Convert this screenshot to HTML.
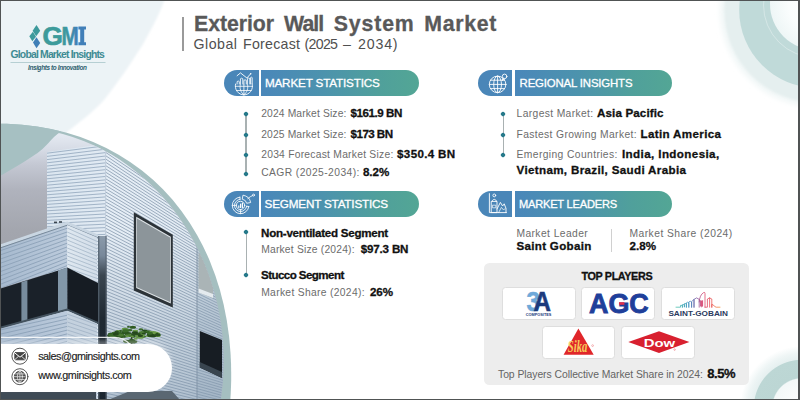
<!DOCTYPE html>
<html>
<head>
<meta charset="utf-8">
<title>Exterior Wall System Market</title>
<style>
html,body{margin:0;padding:0;}
body{width:800px;height:400px;overflow:hidden;background:#fff;position:relative;font-family:"Liberation Sans",sans-serif;}
#stage{position:absolute;left:0;top:0;width:800px;height:400px;overflow:hidden;background:#fff;}
.t{position:absolute;white-space:nowrap;}
.abs{position:absolute;}
.pill{position:absolute;height:26px;}
.pill .ic{position:absolute;left:0;top:0;width:34.6px;height:100%;background:#4a86b8;border-radius:13px 0 0 13px;}
.pill .bar{position:absolute;left:36.8px;top:0;right:0;height:100%;border-radius:0 13px 13px 0;background:linear-gradient(90deg,#4a87ba 0%,#4c93ad 40%,#50a09b 75%,#53a695 100%);}
.dot{position:absolute;width:4px;height:4px;background:#26798a;transform:rotate(45deg);border-radius:1.3px;margin:0.3px;}
.vl{position:absolute;width:1.5px;background:#a9b1b2;margin-left:-0.2px;}
.card{position:absolute;background:#fff;border:1px solid #dedede;border-radius:3.5px;box-sizing:border-box;}
</style>
</head>
<body>
<div id="stage">

<!-- background + photo -->
<svg class="abs" style="left:0;top:0" width="800" height="400" viewBox="0 0 800 400">
  <defs>
    <clipPath id="photoClip"><ellipse cx="11.26" cy="361.2" rx="212.41" ry="234.3"/></clipPath>
    <clipPath id="outerClip"><ellipse cx="-100" cy="480.32" rx="286.99" ry="393.09" transform="rotate(37.99 -100 480.32)"/></clipPath>
    <filter id="soft" x="-10%" y="-10%" width="120%" height="120%"><feGaussianBlur stdDeviation="1.3"/></filter>
    <filter id="soft1" x="-10%" y="-10%" width="120%" height="120%"><feGaussianBlur stdDeviation="0.8"/></filter>
    <filter id="soft2" x="-10%" y="-10%" width="120%" height="120%"><feGaussianBlur stdDeviation="2.5"/></filter>
    <radialGradient id="innerTR" cx="816" cy="4" r="46" gradientUnits="userSpaceOnUse"><stop offset="0" stop-color="#ffffff"/><stop offset="0.6" stop-color="#fafdfd"/><stop offset="1" stop-color="#eef6f6"/></radialGradient>
    
    <linearGradient id="pipe" x1="0" y1="236" x2="0" y2="400" gradientUnits="userSpaceOnUse"><stop offset="0" stop-color="#8b9bab"/><stop offset="0.12" stop-color="#78889a"/><stop offset="0.24" stop-color="#3a454f"/><stop offset="0.5" stop-color="#1f2932"/><stop offset="1" stop-color="#1c2630"/></linearGradient>
    <linearGradient id="shade" x1="0" y1="230" x2="0" y2="400" gradientUnits="userSpaceOnUse"><stop offset="0" stop-color="#7f95ab" stop-opacity="0"/><stop offset="1" stop-color="#7f95ab" stop-opacity="0.5"/></linearGradient>
    <linearGradient id="sky" x1="0" y1="135" x2="0" y2="300" gradientUnits="userSpaceOnUse">
      <stop offset="0" stop-color="#e4e9f1"/><stop offset="0.09" stop-color="#d6dbe5"/><stop offset="0.18" stop-color="#c4c8d3"/><stop offset="0.33" stop-color="#b0b3bd"/><stop offset="0.58" stop-color="#a3a6ae"/><stop offset="1" stop-color="#9a9da6"/>
    </linearGradient>
    <linearGradient id="gA" x1="47" y1="0" x2="105" y2="0" gradientUnits="userSpaceOnUse">
      <stop offset="0" stop-color="#dbe6f0"/><stop offset="1" stop-color="#e1eaf3"/>
    </linearGradient>
    <linearGradient id="gB" x1="105" y1="0" x2="240" y2="0" gradientUnits="userSpaceOnUse">
      <stop offset="0" stop-color="#e6eef6"/><stop offset="0.6" stop-color="#e2ebf3"/><stop offset="1" stop-color="#d3dee9"/>
    </linearGradient>
    <linearGradient id="gC" x1="0" y1="0" x2="67" y2="0" gradientUnits="userSpaceOnUse">
      <stop offset="0" stop-color="#a6b9ce"/><stop offset="1" stop-color="#bccbdc"/>
    </linearGradient>
    <linearGradient id="gD" x1="67" y1="0" x2="97" y2="0" gradientUnits="userSpaceOnUse">
      <stop offset="0" stop-color="#dfe8f0"/><stop offset="1" stop-color="#d3dee9"/>
    </linearGradient>

    <radialGradient id="ringBR" cx="802" cy="408" r="62" gradientUnits="userSpaceOnUse">
      <stop offset="0" stop-color="#ffffff"/>
      <stop offset="0.47" stop-color="#f3f8f8"/>
      <stop offset="0.49" stop-color="#bcd6d4"/>
      <stop offset="0.77" stop-color="#bdd7d5"/>
      <stop offset="0.785" stop-color="#e6f0f0"/>
      <stop offset="0.88" stop-color="#eef5f5"/>
      <stop offset="1" stop-color="#ffffff"/>
    </radialGradient>
  </defs>

  <!-- pale blue top-left wash -->
  <path d="M-5 -5 H166 C161 12 153 26 142.5 45 C133 60 120 80 104 100 C93 112 80 122 58 139 L-5 140 Z" fill="#ecf3f6" filter="url(#soft)"/>

  <!-- decorative rings -->
  <circle cx="817" cy="10" r="97" fill="#f1f7f7" filter="url(#soft2)"/>
  <circle cx="817" cy="10" r="92.6" fill="#e5efef" filter="url(#soft1)"/>
  <circle cx="817" cy="10" r="77.8" fill="#c0dad9"/>
  <circle cx="816" cy="5" r="52.5" fill="none" stroke="#e3efee" stroke-width="0.6"/>
  <circle cx="816" cy="4" r="46" fill="url(#innerTR)"/>
  <circle cx="802" cy="408" r="62" fill="url(#ringBR)"/>

  <!-- outer teal ellipse (ring + crescent) -->
  <ellipse cx="-100" cy="480.32" rx="286.99" ry="393.09" transform="rotate(37.99 -100 480.32)" fill="#a5bfc0"/>

  <!-- photo -->
  <g clip-path="url(#photoClip)">
    <g id="photo">
<rect x="0" y="100" width="240" height="300" fill="url(#sky)"/>
<clipPath id="fA"><polygon points="47,152 105.4,143.8 105.4,400 47,400"/></clipPath><polygon points="47,152 105.4,143.8 105.4,400 47,400" fill="url(#gA)"/><g clip-path="url(#fA)"><path d="M47.0 150.00L106.0 142.33M47.0 153.20L106.0 145.74M47.0 156.40L106.0 149.15M47.0 159.60L106.0 152.56M47.0 162.80L106.0 155.97M47.0 166.00L106.0 159.38M47.0 169.20L106.0 162.79M47.0 172.40L106.0 166.20M47.0 175.60L106.0 169.61M47.0 178.80L106.0 173.02M47.0 182.00L106.0 176.43M47.0 185.20L106.0 179.84M47.0 188.40L106.0 183.25M47.0 191.60L106.0 186.66M47.0 194.80L106.0 190.07M47.0 198.00L106.0 193.48M47.0 201.20L106.0 196.89M47.0 204.40L106.0 200.30M47.0 207.60L106.0 203.71M47.0 210.80L106.0 207.12M47.0 214.00L106.0 210.53M47.0 217.20L106.0 213.94M47.0 220.40L106.0 217.35M47.0 223.60L106.0 220.75M47.0 226.80L106.0 224.16M47.0 230.00L106.0 227.57M47.0 233.20L106.0 230.98M47.0 236.40L106.0 234.39M47.0 239.60L106.0 237.80M47.0 242.80L106.0 241.21M47.0 246.00L106.0 244.62M47.0 249.20L106.0 248.03M47.0 252.40L106.0 251.44M47.0 255.60L106.0 254.85M47.0 258.80L106.0 258.26M47.0 262.00L106.0 261.67M47.0 265.20L106.0 265.08M47.0 268.40L106.0 268.49M47.0 271.60L106.0 271.90M47.0 274.80L106.0 275.31M47.0 278.00L106.0 278.72M47.0 281.20L106.0 282.13M47.0 284.40L106.0 285.54M47.0 287.60L106.0 288.95M47.0 290.80L106.0 292.36M47.0 294.00L106.0 295.77M47.0 297.20L106.0 299.18M47.0 300.40L106.0 302.59M47.0 303.60L106.0 306.00M47.0 306.80L106.0 309.41M47.0 310.00L106.0 312.82M47.0 313.20L106.0 316.23M47.0 316.40L106.0 319.64M47.0 319.60L106.0 323.05M47.0 322.80L106.0 326.46M47.0 326.00L106.0 329.87M47.0 329.20L106.0 333.28M47.0 332.40L106.0 336.69M47.0 335.60L106.0 340.10M47.0 338.80L106.0 343.51M47.0 342.00L106.0 346.92M47.0 345.20L106.0 350.33M47.0 348.40L106.0 353.74M47.0 351.60L106.0 357.15M47.0 354.80L106.0 360.56M47.0 358.00L106.0 363.97M47.0 361.20L106.0 367.38M47.0 364.40L106.0 370.79M47.0 367.60L106.0 374.19M47.0 370.80L106.0 377.60M47.0 374.00L106.0 381.01M47.0 377.20L106.0 384.42M47.0 380.40L106.0 387.83M47.0 383.60L106.0 391.24M47.0 386.80L106.0 394.65M47.0 390.00L106.0 398.06M47.0 393.20L106.0 401.47M47.0 396.40L106.0 404.88M47.0 399.60L106.0 408.29M47.0 402.80L106.0 411.70M47.0 406.00L106.0 415.11M47.0 409.20L106.0 418.52M47.0 412.40L106.0 421.93M47.0 415.60L106.0 425.34M47.0 418.80L106.0 428.75" stroke="#9db0c4" stroke-width="0.95" fill="none" opacity="1"/></g>
<clipPath id="fB"><polygon points="105.4,100 240,100 240,400 105.4,400"/></clipPath><polygon points="105.4,100 240,100 240,400 105.4,400" fill="url(#gB)"/><g clip-path="url(#fB)"><path d="M105.4 40.00L240.0 159.20M105.4 43.30L240.0 161.66M105.4 46.60L240.0 164.12M105.4 49.90L240.0 166.58M105.4 53.20L240.0 169.04M105.4 56.50L240.0 171.50M105.4 59.80L240.0 173.97M105.4 63.10L240.0 176.43M105.4 66.40L240.0 178.89M105.4 69.70L240.0 181.35M105.4 73.00L240.0 183.81M105.4 76.30L240.0 186.27M105.4 79.60L240.0 188.73M105.4 82.90L240.0 191.20M105.4 86.20L240.0 193.66M105.4 89.50L240.0 196.12M105.4 92.80L240.0 198.58M105.4 96.10L240.0 201.04M105.4 99.40L240.0 203.50M105.4 102.70L240.0 205.96M105.4 106.00L240.0 208.42M105.4 109.30L240.0 210.89M105.4 112.60L240.0 213.35M105.4 115.90L240.0 215.81M105.4 119.20L240.0 218.27M105.4 122.50L240.0 220.73M105.4 125.80L240.0 223.19M105.4 129.10L240.0 225.65M105.4 132.40L240.0 228.11M105.4 135.70L240.0 230.58M105.4 139.00L240.0 233.04M105.4 142.30L240.0 235.50M105.4 145.60L240.0 237.96M105.4 148.90L240.0 240.42M105.4 152.20L240.0 242.88M105.4 155.50L240.0 245.34M105.4 158.80L240.0 247.80M105.4 162.10L240.0 250.27M105.4 165.40L240.0 252.73M105.4 168.70L240.0 255.19M105.4 172.00L240.0 257.65M105.4 175.30L240.0 260.11M105.4 178.60L240.0 262.57M105.4 181.90L240.0 265.03M105.4 185.20L240.0 267.50M105.4 188.50L240.0 269.96M105.4 191.80L240.0 272.42M105.4 195.10L240.0 274.88M105.4 198.40L240.0 277.34M105.4 201.70L240.0 279.80M105.4 205.00L240.0 282.26M105.4 208.30L240.0 284.72M105.4 211.60L240.0 287.19M105.4 214.90L240.0 289.65M105.4 218.20L240.0 292.11M105.4 221.50L240.0 294.57M105.4 224.80L240.0 297.03M105.4 228.10L240.0 299.49M105.4 231.40L240.0 301.95M105.4 234.70L240.0 304.41M105.4 238.00L240.0 306.88M105.4 241.30L240.0 309.34M105.4 244.60L240.0 311.80M105.4 247.90L240.0 314.26M105.4 251.20L240.0 316.72M105.4 254.50L240.0 319.18M105.4 257.80L240.0 321.64M105.4 261.10L240.0 324.10M105.4 264.40L240.0 326.57M105.4 267.70L240.0 329.03M105.4 271.00L240.0 331.49M105.4 274.30L240.0 333.95M105.4 277.60L240.0 336.41M105.4 280.90L240.0 338.87M105.4 284.20L240.0 341.33M105.4 287.50L240.0 343.80M105.4 290.80L240.0 346.26M105.4 294.10L240.0 348.72M105.4 297.40L240.0 351.18M105.4 300.70L240.0 353.64M105.4 304.00L240.0 356.10M105.4 307.30L240.0 358.56M105.4 310.60L240.0 361.02M105.4 313.90L240.0 363.49M105.4 317.20L240.0 365.95M105.4 320.50L240.0 368.41M105.4 323.80L240.0 370.87M105.4 327.10L240.0 373.33M105.4 330.40L240.0 375.79M105.4 333.70L240.0 378.25M105.4 337.00L240.0 380.71M105.4 340.30L240.0 383.18M105.4 343.60L240.0 385.64M105.4 346.90L240.0 388.10M105.4 350.20L240.0 390.56M105.4 353.50L240.0 393.02M105.4 356.80L240.0 395.48M105.4 360.10L240.0 397.94M105.4 363.40L240.0 400.40M105.4 366.70L240.0 402.87M105.4 370.00L240.0 405.33M105.4 373.30L240.0 407.79M105.4 376.60L240.0 410.25M105.4 379.90L240.0 412.71M105.4 383.20L240.0 415.17M105.4 386.50L240.0 417.63M105.4 389.80L240.0 420.10M105.4 393.10L240.0 422.56M105.4 396.40L240.0 425.02M105.4 399.70L240.0 427.48" stroke="#9aabbd" stroke-width="1.0" fill="none" opacity="1"/></g>
<polygon points="197,245 240,266 240,400 197,400" fill="#8fa2b5" opacity="0.22"/>
<path d="M197 235 V400" stroke="#7f90a2" stroke-width="0.9"/>
<rect x="105" y="230" width="140" height="170" fill="url(#shade)"/>
<polygon points="133.8,212.2 172.8,234.8 172.8,307.4 133.8,290.4" fill="#2c3338"/>
<polygon points="136.2,216.8 170.8,236.8 170.8,303.4 136.2,288" fill="#dfe5e8"/>
<polygon points="137,218.4 170,237.6 170,302 137,287.2" fill="#8c959a"/>
<polygon points="198.6,253 213,259 213,298 198.6,292.5" fill="#aab4b6"/>
<polygon points="198.6,288.5 213,294 213,298 198.6,292.5" fill="#e4eaee"/>
<polygon points="199.8,331 222,340 222,378 199.8,367.5" fill="#171d23"/>
<polygon points="199.8,362 222,372 222,378 199.8,367.5" fill="#39454f"/>
<clipPath id="fC"><polygon points="0,247.78 67.2,225 67.2,267.5 0,288.332"/></clipPath><polygon points="0,247.78 67.2,225 67.2,267.5 0,288.332" fill="url(#gC)"/><g clip-path="url(#fC)"><path d="M0.0 250.78L67.2 228.27M0.0 254.98L67.2 232.00M0.0 259.18L67.2 235.73M0.0 263.38L67.2 239.46M0.0 267.58L67.2 243.19M0.0 271.78L67.2 246.92M0.0 275.98L67.2 250.65M0.0 280.18L67.2 254.38M0.0 284.38L67.2 258.10M0.0 288.58L67.2 261.83M0.0 292.78L67.2 265.56M0.0 296.98L67.2 269.29" stroke="#8ca1b8" stroke-width="0.9" fill="none" opacity="1"/></g>
<polygon points="0,244.4 67.3,221.6 98,234.4 98,237.4 67.3,225 0,247.8" fill="#c9d6e2"/>
<path d="M0 248.0 L67.3 225.2 L98 237.8" stroke="#6f8294" stroke-width="0.9" fill="none"/>
<rect x="54" y="221.6" width="3" height="1.6" fill="#39444e"/><rect x="59" y="221.2" width="3" height="1.6" fill="#39444e"/>
<clipPath id="fD"><polygon points="67.2,225 97,237.6 97,282.6 67.2,267.5"/></clipPath><polygon points="67.2,225 97,237.6 97,282.6 67.2,267.5" fill="url(#gD)"/><g clip-path="url(#fD)"><path d="M67.2 228.00L97.0 241.41M67.2 232.00L97.0 245.11M67.2 236.00L97.0 248.81M67.2 240.00L97.0 252.52M67.2 244.00L97.0 256.22M67.2 248.00L97.0 259.92M67.2 252.00L97.0 263.62M67.2 256.00L97.0 267.32M67.2 260.00L97.0 271.03M67.2 264.00L97.0 274.73M67.2 268.00L97.0 278.43M67.2 272.00L97.0 282.13" stroke="#a5b6c8" stroke-width="0.8" fill="none" opacity="1"/></g>
<polygon points="0,288.8 67.2,267.8 67.2,309.3 0,327.8" fill="#1a2129"/>
<polygon points="67.2,267.5 106,287 106,326.5 67.2,309.7" fill="#161c23"/>
<polygon points="21.4,282.2 27.4,280.3 27.4,320.2 21.4,321.9" fill="#788c9d"/>
<polygon points="58,270.4 67.2,267.5 67.2,309.7 58,311.9" fill="#8297a8"/>
<path d="M0 328 L67.2 309.6 L99 323.4" stroke="#44535f" stroke-width="2.2" fill="none"/>
<clipPath id="fE"><polygon points="0,328.8 67.2,310.7 67.2,400 0,400"/></clipPath><polygon points="0,328.8 67.2,310.7 67.2,400 0,400" fill="url(#gC)"/><g clip-path="url(#fE)"><path d="M0.0 330.00L67.2 315.22M0.0 334.20L67.2 318.95M0.0 338.40L67.2 322.68M0.0 342.60L67.2 326.40M0.0 346.80L67.2 330.13M0.0 351.00L67.2 333.86M0.0 355.20L67.2 337.59M0.0 359.40L67.2 341.32M0.0 363.60L67.2 345.05M0.0 367.80L67.2 348.78M0.0 372.00L67.2 352.51M0.0 376.20L67.2 356.24M0.0 380.40L67.2 359.97M0.0 384.60L67.2 363.70M0.0 388.80L67.2 367.43M0.0 393.00L67.2 371.16M0.0 397.20L67.2 374.89M0.0 401.40L67.2 378.62M0.0 405.60L67.2 382.35M0.0 409.80L67.2 386.08M0.0 414.00L67.2 389.81M0.0 418.20L67.2 393.54" stroke="#8ca1b8" stroke-width="0.9" fill="none" opacity="1"/></g>
<clipPath id="fF"><polygon points="67.2,310.7 97,323.5 97,400 67.2,400"/></clipPath><polygon points="67.2,310.7 97,323.5 97,400 67.2,400" fill="#c4d1de"/><g clip-path="url(#fF)"><path d="M67.2 314.00L97.0 324.73M67.2 318.00L97.0 328.43M67.2 322.00L97.0 332.13M67.2 326.00L97.0 335.83M67.2 330.00L97.0 339.54M67.2 334.00L97.0 343.24M67.2 338.00L97.0 346.94M67.2 342.00L97.0 350.64M67.2 346.00L97.0 354.34M67.2 350.00L97.0 358.05M67.2 354.00L97.0 361.75M67.2 358.00L97.0 365.45M67.2 362.00L97.0 369.15M67.2 366.00L97.0 372.85M67.2 370.00L97.0 376.56M67.2 374.00L97.0 380.26M67.2 378.00L97.0 383.96M67.2 382.00L97.0 387.66M67.2 386.00L97.0 391.36M67.2 390.00L97.0 395.07M67.2 394.00L97.0 398.77M67.2 398.00L97.0 402.47" stroke="#9fb1c4" stroke-width="0.8" fill="none" opacity="1"/></g>
<rect x="98" y="236" width="8.6" height="164" fill="url(#pipe)"/>
<rect x="98" y="236" width="1.4" height="164" fill="#55636f" opacity="0.8"/>
<rect x="105.4" y="236" width="1.2" height="164" fill="#55636f" opacity="0.7"/>
<path d="M105.6 143 V236" stroke="#c0cddb" stroke-width="1"/>
<path d="M131.5 336 L131.8 346" stroke="#2a3324" stroke-width="1.3"/><ellipse cx="131.9" cy="334.8" rx="3.3" ry="1.5" fill="#2a5020"/><ellipse cx="131.8" cy="339.6" rx="1.9" ry="0.9" fill="#25481c"/><ellipse cx="133.0" cy="335.8" rx="1.9" ry="0.9" fill="#2a5020"/><ellipse cx="124.8" cy="329.1" rx="3.1" ry="1.4" fill="#6a9a48"/><ellipse cx="140.4" cy="333.7" rx="2.3" ry="1.1" fill="#2a5020"/><ellipse cx="141.4" cy="333.9" rx="1.8" ry="0.8" fill="#2f5a22"/><ellipse cx="149.8" cy="331.4" rx="1.6" ry="0.7" fill="#3a6a2a"/><ellipse cx="138.8" cy="335.4" rx="2.1" ry="1.0" fill="#25481c"/><ellipse cx="150.3" cy="333.8" rx="2.7" ry="1.3" fill="#2a5020"/><ellipse cx="110.7" cy="334.1" rx="2.8" ry="1.3" fill="#2a5020"/><ellipse cx="157.6" cy="335.4" rx="3.1" ry="1.5" fill="#6a9a48"/><ellipse cx="122.5" cy="335.4" rx="2.5" ry="1.2" fill="#2f5a22"/><ellipse cx="113.8" cy="335.5" rx="2.3" ry="1.1" fill="#4a7a34"/><ellipse cx="128.7" cy="341.4" rx="3.2" ry="1.5" fill="#2f5a22"/><ellipse cx="120.6" cy="336.7" rx="1.6" ry="0.7" fill="#2a5020"/><ellipse cx="156.8" cy="334.1" rx="1.6" ry="0.8" fill="#6a9a48"/><ellipse cx="119.9" cy="334.9" rx="2.2" ry="1.0" fill="#4a7a34"/><ellipse cx="126.2" cy="341.5" rx="3.0" ry="1.4" fill="#2f5a22"/><ellipse cx="116.9" cy="335.2" rx="1.5" ry="0.7" fill="#2a5020"/><ellipse cx="148.1" cy="331.6" rx="2.6" ry="1.2" fill="#2a5020"/><ellipse cx="134.5" cy="341.8" rx="3.0" ry="1.4" fill="#2a5020"/><ellipse cx="140.9" cy="329.4" rx="2.3" ry="1.1" fill="#3a6a2a"/><ellipse cx="110.5" cy="335.7" rx="3.4" ry="1.6" fill="#25481c"/><ellipse cx="124.9" cy="336.6" rx="1.9" ry="0.9" fill="#2a5020"/><ellipse cx="157.5" cy="334.6" rx="2.6" ry="1.2" fill="#2f5a22"/><ellipse cx="157.2" cy="333.8" rx="2.0" ry="0.9" fill="#25481c"/><ellipse cx="126.0" cy="331.9" rx="1.6" ry="0.8" fill="#2f5a22"/><ellipse cx="120.4" cy="334.6" rx="1.5" ry="0.7" fill="#4a7a34"/><ellipse cx="128.0" cy="333.7" rx="3.4" ry="1.6" fill="#2a5020"/><ellipse cx="149.8" cy="331.8" rx="2.3" ry="1.1" fill="#6a9a48"/><ellipse cx="117.8" cy="336.3" rx="3.1" ry="1.4" fill="#3a6a2a"/><ellipse cx="144.7" cy="330.7" rx="2.7" ry="1.3" fill="#25481c"/><ellipse cx="119.8" cy="336.8" rx="3.2" ry="1.5" fill="#25481c"/><ellipse cx="114.2" cy="332.7" rx="1.7" ry="0.8" fill="#25481c"/><ellipse cx="155.9" cy="333.6" rx="2.9" ry="1.3" fill="#4a7a34"/><ellipse cx="130.4" cy="340.5" rx="2.5" ry="1.1" fill="#25481c"/><ellipse cx="118.8" cy="335.2" rx="1.6" ry="0.8" fill="#3a6a2a"/><ellipse cx="133.1" cy="336.5" rx="2.7" ry="1.3" fill="#2f5a22"/><ellipse cx="123.7" cy="336.8" rx="1.9" ry="0.9" fill="#2f5a22"/><ellipse cx="113.8" cy="334.2" rx="2.0" ry="0.9" fill="#2f5a22"/><ellipse cx="118.8" cy="333.0" rx="2.6" ry="1.2" fill="#3a6a2a"/><ellipse cx="114.9" cy="332.8" rx="2.4" ry="1.1" fill="#4a7a34"/><ellipse cx="141.5" cy="334.6" rx="2.6" ry="1.2" fill="#3a6a2a"/><ellipse cx="138.3" cy="336.9" rx="2.4" ry="1.1" fill="#4a7a34"/><ellipse cx="143.6" cy="336.8" rx="1.5" ry="0.7" fill="#6a9a48"/><ellipse cx="114.0" cy="332.8" rx="2.1" ry="1.0" fill="#3a6a2a"/><ellipse cx="157.7" cy="333.6" rx="2.6" ry="1.2" fill="#6a9a48"/><ellipse cx="112.6" cy="336.0" rx="2.9" ry="1.4" fill="#3a6a2a"/><ellipse cx="147.9" cy="336.0" rx="2.2" ry="1.0" fill="#6a9a48"/><ellipse cx="132.8" cy="327.2" rx="3.2" ry="1.5" fill="#2f5a22"/><ellipse cx="151.3" cy="334.2" rx="2.7" ry="1.3" fill="#2a5020"/><ellipse cx="128.4" cy="326.9" rx="1.6" ry="0.8" fill="#2f5a22"/><ellipse cx="140.7" cy="337.3" rx="3.2" ry="1.5" fill="#6a9a48"/><ellipse cx="126.1" cy="341.1" rx="2.9" ry="1.3" fill="#2a5020"/><ellipse cx="131.3" cy="339.3" rx="1.7" ry="0.8" fill="#25481c"/><ellipse cx="111.9" cy="335.1" rx="2.4" ry="1.1" fill="#3a6a2a"/><ellipse cx="155.7" cy="333.2" rx="3.0" ry="1.4" fill="#6a9a48"/><ellipse cx="153.9" cy="333.2" rx="1.5" ry="0.7" fill="#4a7a34"/><ellipse cx="117.3" cy="334.6" rx="2.5" ry="1.2" fill="#4a7a34"/><ellipse cx="141.7" cy="332.4" rx="3.2" ry="1.5" fill="#4a7a34"/><ellipse cx="129.6" cy="330.2" rx="2.7" ry="1.3" fill="#3a6a2a"/><ellipse cx="152.0" cy="333.4" rx="2.6" ry="1.2" fill="#4a7a34"/><ellipse cx="120.4" cy="331.0" rx="2.2" ry="1.0" fill="#2f5a22"/><ellipse cx="144.1" cy="336.6" rx="2.0" ry="1.0" fill="#3a6a2a"/><ellipse cx="115.8" cy="334.1" rx="3.3" ry="1.5" fill="#2a5020"/><ellipse cx="128.6" cy="334.7" rx="2.8" ry="1.3" fill="#6a9a48"/><ellipse cx="150.1" cy="336.2" rx="2.4" ry="1.1" fill="#2f5a22"/><ellipse cx="149.6" cy="332.5" rx="2.7" ry="1.3" fill="#6a9a48"/><ellipse cx="143.9" cy="333.7" rx="2.1" ry="1.0" fill="#25481c"/><ellipse cx="111.4" cy="334.0" rx="2.4" ry="1.1" fill="#2f5a22"/><ellipse cx="146.8" cy="331.9" rx="3.0" ry="1.4" fill="#2f5a22"/><ellipse cx="156.9" cy="333.5" rx="1.7" ry="0.8" fill="#25481c"/><ellipse cx="141.4" cy="335.6" rx="3.4" ry="1.6" fill="#6a9a48"/><ellipse cx="119.8" cy="335.9" rx="2.0" ry="0.9" fill="#6a9a48"/><ellipse cx="111.0" cy="334.9" rx="2.9" ry="1.3" fill="#3a6a2a"/><ellipse cx="121.2" cy="335.6" rx="2.6" ry="1.2" fill="#25481c"/><ellipse cx="134.1" cy="341.9" rx="1.8" ry="0.8" fill="#6a9a48"/><ellipse cx="153.3" cy="332.5" rx="3.3" ry="1.5" fill="#6a9a48"/><ellipse cx="128.8" cy="333.5" rx="1.9" ry="0.9" fill="#2f5a22"/><ellipse cx="128.3" cy="335.4" rx="3.2" ry="1.5" fill="#4a7a34"/><ellipse cx="132.4" cy="336.3" rx="1.9" ry="0.9" fill="#6a9a48"/><ellipse cx="151.4" cy="335.2" rx="3.3" ry="1.5" fill="#2f5a22"/><ellipse cx="120.6" cy="336.5" rx="3.4" ry="1.6" fill="#4a7a34"/><ellipse cx="135.8" cy="338.8" rx="2.1" ry="1.0" fill="#6a9a48"/><ellipse cx="150.9" cy="333.1" rx="1.7" ry="0.8" fill="#2a5020"/><ellipse cx="126.6" cy="333.6" rx="2.0" ry="1.0" fill="#2f5a22"/><ellipse cx="120.8" cy="336.2" rx="2.3" ry="1.1" fill="#2f5a22"/><ellipse cx="118.7" cy="332.8" rx="3.0" ry="1.4" fill="#3a6a2a"/><ellipse cx="132.7" cy="342.0" rx="3.3" ry="1.5" fill="#25481c"/><ellipse cx="150.1" cy="334.7" rx="3.3" ry="1.6" fill="#2a5020"/><ellipse cx="137.8" cy="334.5" rx="3.0" ry="1.4" fill="#2a5020"/><ellipse cx="135.4" cy="331.1" rx="2.9" ry="1.4" fill="#6a9a48"/><ellipse cx="118.3" cy="334.0" rx="3.3" ry="1.5" fill="#4a7a34"/><ellipse cx="125.2" cy="331.7" rx="3.1" ry="1.5" fill="#25481c"/><ellipse cx="120.3" cy="336.1" rx="3.4" ry="1.6" fill="#25481c"/><ellipse cx="123.4" cy="333.1" rx="2.3" ry="1.1" fill="#2f5a22"/><ellipse cx="134.2" cy="335.8" rx="1.6" ry="0.7" fill="#2f5a22"/><ellipse cx="134.9" cy="332.7" rx="3.1" ry="1.4" fill="#25481c"/><ellipse cx="116.3" cy="332.1" rx="1.8" ry="0.9" fill="#25481c"/><ellipse cx="132.2" cy="340.7" rx="3.1" ry="1.4" fill="#2a5020"/><ellipse cx="123.2" cy="332.9" rx="1.7" ry="0.8" fill="#2a5020"/><ellipse cx="153.0" cy="335.7" rx="3.3" ry="1.5" fill="#25481c"/><ellipse cx="125.5" cy="329.8" rx="2.7" ry="1.3" fill="#4a7a34"/><ellipse cx="116.6" cy="335.6" rx="1.5" ry="0.7" fill="#3a6a2a"/><ellipse cx="117.8" cy="331.1" rx="2.1" ry="1.0" fill="#6a9a48"/><ellipse cx="127.3" cy="336.4" rx="1.7" ry="0.8" fill="#6a9a48"/><ellipse cx="138.0" cy="336.2" rx="2.7" ry="1.3" fill="#6a9a48"/><ellipse cx="119.8" cy="333.9" rx="2.4" ry="1.1" fill="#2a5020"/><ellipse cx="140.4" cy="335.8" rx="2.7" ry="1.3" fill="#25481c"/><ellipse cx="120.1" cy="334.5" rx="2.7" ry="1.3" fill="#25481c"/><ellipse cx="120.7" cy="333.9" rx="2.6" ry="1.2" fill="#3a6a2a"/><ellipse cx="121.5" cy="335.3" rx="3.1" ry="1.4" fill="#3a6a2a"/><ellipse cx="125.4" cy="331.1" rx="3.3" ry="1.5" fill="#3a6a2a"/><ellipse cx="147.2" cy="331.5" rx="1.7" ry="0.8" fill="#3a6a2a"/><ellipse cx="116.8" cy="331.9" rx="2.3" ry="1.1" fill="#2a5020"/><ellipse cx="149.8" cy="333.3" rx="3.0" ry="1.4" fill="#3a6a2a"/><ellipse cx="120.0" cy="334.5" rx="3.1" ry="1.4" fill="#2f5a22"/><ellipse cx="120.0" cy="334.9" rx="3.3" ry="1.5" fill="#4a7a34"/><ellipse cx="115.9" cy="334.2" rx="3.0" ry="1.4" fill="#25481c"/><ellipse cx="157.6" cy="335.0" rx="3.1" ry="1.4" fill="#2a5020"/>
<polygon points="0,392 96,392 96,400 0,400" fill="#3f4b56"/>
<polygon points="108,400 130,391 172,391 180,400" fill="#5a6772"/>
    </g>
  </g>

  <!-- teal crescent over photo (upper-left) -->
  <g clip-path="url(#outerClip)">
    <path d="M-5 100 L-5 179 L1.9 175 Q7 172 12.5 168.75 Q19 165 25 161.25 Q31 157.5 37.5 153.1 Q43 149 48 143.5 Q51 140 54 137 Q57 134.2 60 132.3 L66 128 L120 100 Z" fill="#a6c0c2"/>
  </g>
</svg>

<!-- logo -->
<svg class="abs" style="left:0;top:0" width="200" height="80" viewBox="0 0 200 80">
  <defs>
    <linearGradient id="gmiG" x1="62" y1="0" x2="78" y2="0" gradientUnits="userSpaceOnUse">
      <stop offset="0" stop-color="#3d9b9b"/><stop offset="0.35" stop-color="#3d96a2"/><stop offset="1" stop-color="#417fb8"/>
    </linearGradient>
  </defs>
  <polygon points="36.5,25 40.2,30.8 36.2,36.2 32.6,30.8" fill="#3d9a9c"/>
  <polygon points="29.3,36.3 32.9,31.8 36,36.8 32.3,41.3" fill="#3d9a9c"/>
  <polygon points="36.5,37.3 40.2,43 36.5,48.2 33,42.6" fill="#3f7fb7"/>
  <text x="42.4" y="45.1" font-family="Liberation Sans, sans-serif" font-weight="bold" font-size="26" textLength="20.4" lengthAdjust="spacingAndGlyphs" fill="#3d9b9b" stroke="#3d9b9b" stroke-width="0.7">G</text>
  <text x="61.6" y="45.1" font-family="Liberation Sans, sans-serif" font-weight="bold" font-size="26" textLength="17.2" lengthAdjust="spacingAndGlyphs" fill="url(#gmiG)" stroke="url(#gmiG)" stroke-width="0.6">M</text>
  <path d="M78.4 26.6 H86 V29.6 H84.2 V42.2 H86 V45.2 H78.4 V42.2 H80.2 V29.6 H78.4 Z" fill="#417fb8"/>
  <rect x="10.5" y="62" width="95" height="0.8" fill="#a9c6cb"/>
</svg>

<!-- title bar -->
<div class="abs" style="left:182.4px;top:17.4px;width:2px;height:33.6px;background:#9a9a9a;"></div>

<!-- pills -->
<div class="pill" style="left:224.3px;top:69.7px;width:195px;"><div class="ic"></div><div class="bar"></div></div>
<div class="pill" style="left:224.3px;top:191.2px;width:195px;"><div class="ic"></div><div class="bar"></div></div>
<div class="pill" style="left:477.8px;top:69.7px;width:194.4px;"><div class="ic"></div><div class="bar"></div></div>
<div class="pill" style="left:477.8px;top:191.2px;width:194.4px;"><div class="ic"></div><div class="bar"></div></div>

<!-- pill icons -->
<svg class="abs" style="left:0;top:0" width="800" height="400" viewBox="0 0 800 400" fill="none" stroke="#fff" stroke-width="0.9" stroke-linecap="round" stroke-linejoin="round">
  <!-- market stats icon: half globe + bars + trend -->
  <g>
    <path d="M235.6 84 A8.6 8.6 0 1 0 252.2 84" />
    <path d="M235.3 86.3 H252.5 M236.6 90.5 H251.2 M243.9 84.2 V94.8 M240.3 84.6 C239.4 88 240.6 92.6 243.9 94.8 M247.5 84.6 C248.4 88 247.2 92.6 243.9 94.8" stroke-width="0.8"/>
    <path d="M237.1 84 V81.6 Q238.2 80.4 239.3 81.6 V84 M240.4 84 V78.8 Q241.6 77.6 242.8 78.8 V84 M243.9 84 V80.4 Q245.1 79.2 246.3 80.4 V84 M247.4 84 V78.6 Q248.6 77.4 249.8 78.6 V84 M250.6 84 V77.6 Q251.4 76.8 252.2 77.6 V83.6" stroke-width="0.85"/>
    <path d="M237.1 75.7 L240.5 72.9 L246.9 78 L250.2 74.3"/>
    <circle cx="250.7" cy="73.8" r="0.8" fill="#fff" stroke="none"/>
  </g>
  <!-- segment icon -->
  <g>
    <path d="M248.82 206.56 A8.3 8.3 0 1 1 239.88 197.13 M246.64 206.25 A6.1 6.1 0 1 1 240.07 199.32 M248.82 206.56 L246.64 206.25 M239.88 197.13 L240.07 199.32" stroke-width="0.85"/>
    <circle cx="240.6" cy="205.4" r="4.1"/>
    <path d="M232.30 205.4 H236.50 M240.6 209.50 V213.70" stroke-width="0.85"/>
    <path d="M238.80 207.50 V205.80 M240.60 207.50 V204.00 M242.40 207.50 V203.10" stroke-width="1.15"/>
    <path d="M243.36 195.24 A9.0 9.0 0 0 1 250.66 202.54 L246.63 203.25 A4.9 4.9 0 0 0 242.65 199.27 Z" stroke-width="0.85"/>
    <path d="M247.8 198.6 Q250.2 196.4 252.6 195.5" stroke-width="0.85"/>
    <circle cx="253.5" cy="195.1" r="1" stroke-width="0.8"/>
  </g>
  <!-- regional icon -->
  <g>
    <circle cx="497.6" cy="84.4" r="8.3"/>
    <ellipse cx="497.6" cy="84.4" rx="3.9" ry="8.3"/>
    <path d="M497.6 76.1 V92.7 M489.3 84.4 H505.9 M490.6 80.2 H504.6 M490.6 88.6 H504.6"/>
    <circle cx="504.6" cy="76.4" r="2.3" fill="#4a86b8"/>
    <path d="M503 78.2 L502.2 80.6 L504.4 79" />
  </g>
  <!-- leaders icon -->
  <g>
    <path d="M489.4 193.6 V212.6 H506.4"/>
    <rect x="491.6" y="201.4" width="5.4" height="11.2"/>
    <circle cx="494.3" cy="195.4" r="1.4"/>
    <path d="M492.2 201.4 C492.2 198.6 496.4 198.6 496.4 201.4"/>
    <path d="M497 209 L500.4 202.4 L502.6 206 L504.2 203.8 L506 208.4 V212.6"/>
    <path d="M498.6 212.6 L501.4 207.4 L503.6 210 L505.2 208.4" stroke-width="0.7"/>
    <rect x="492.8" y="205.2" width="3" height="2.6" stroke-width="0.7"/>
  </g>
</svg>

<!-- timeline lines + dots -->
<div class="vl" style="left:245.4px;top:114px;height:60px;"></div>
<div class="dot" style="left:243.7px;top:111.9px;"></div>
<div class="dot" style="left:243.7px;top:132.6px;"></div>
<div class="dot" style="left:243.7px;top:152.9px;"></div>
<div class="dot" style="left:243.7px;top:171.4px;"></div>

<div class="vl" style="left:245.9px;top:232px;height:43px;"></div>
<div class="dot" style="left:244.2px;top:229.8px;"></div>
<div class="dot" style="left:244.2px;top:272.8px;"></div>

<div class="vl" style="left:502.8px;top:114px;height:41px;"></div>
<div class="dot" style="left:501.1px;top:111.9px;"></div>
<div class="dot" style="left:501.1px;top:132.7px;"></div>
<div class="dot" style="left:501.1px;top:152.9px;"></div>

<!-- leaders divider -->
<div class="abs" style="left:611px;top:229px;width:1px;height:23px;background:#d0d0d0;"></div>

<!-- top players box -->
<div class="abs" style="left:484.3px;top:263.3px;width:265.2px;height:122.2px;background:#ededed;border-radius:5.5px;"></div>
<div class="card" style="left:501.6px;top:286.5px;width:74.0px;height:33.3px;"></div>
<div class="card" style="left:581.4px;top:286.5px;width:74.0px;height:33.3px;"></div>
<div class="card" style="left:661.1px;top:286.5px;width:74.0px;height:33.3px;"></div>
<div class="card" style="left:541.6px;top:325.5px;width:73.6px;height:33.3px;"></div>
<div class="card" style="left:621.4px;top:325.5px;width:73.6px;height:33.3px;"></div>

<!-- logos -->
<svg class="abs" style="left:0;top:0" width="800" height="400" viewBox="0 0 800 400">
  <defs>
    <linearGradient id="sgG" x1="676" y1="0" x2="720" y2="0" gradientUnits="userSpaceOnUse">
      <stop offset="0" stop-color="#3fbfa6"/><stop offset="0.3" stop-color="#3a8fc0"/><stop offset="0.48" stop-color="#7a4a98"/><stop offset="0.62" stop-color="#d63a66"/><stop offset="0.8" stop-color="#e8484a"/><stop offset="1" stop-color="#f08a30"/>
    </linearGradient>
  </defs>
  <!-- 3A composites -->
  <text x="526.4" y="310.7" font-family="Liberation Sans, sans-serif" font-weight="bold" font-size="27" textLength="13.4" lengthAdjust="spacingAndGlyphs" fill="#6fa9d9" stroke="#6fa9d9" stroke-width="0.5">3</text>
  <text x="533.4" y="310.7" font-family="Liberation Sans, sans-serif" font-weight="bold" font-size="27" textLength="17.4" lengthAdjust="spacingAndGlyphs" fill="#1d3a7c" stroke="#1d3a7c" stroke-width="0.6">A</text>
  <text x="525.8" y="316.2" font-family="Liberation Sans, sans-serif" font-weight="bold" font-size="3.6" textLength="25.6" lengthAdjust="spacingAndGlyphs" fill="#1d3a7c">COMPOSITES</text>
  <!-- AGC -->
  <text x="589" y="312.8" font-family="Liberation Sans, sans-serif" font-weight="bold" font-size="27.2" textLength="59.8" lengthAdjust="spacingAndGlyphs" fill="#1f3f9a" stroke="#1f3f9a" stroke-width="0.9">AGC</text>
  <rect x="619" y="302.2" width="5.4" height="2.6" fill="#e0304a"/>
  <!-- Saint-Gobain -->
  <path d="M676 307.2 H680.5 V305.4 H682.4 V307.2 M682.4 307.2 V304.6 H684.4 V307.2 V303.6 H686.4 V307.2 M686.4 307.2 V302.8 Q687.6 301.6 688.8 302.8 V307.2 M688.8 307.2 V302 Q690.2 300.4 691.6 302 V307.2 M691.6 307.2 V301.6 L694 299.4 V307.2 M694 307.2 V299.4 Q696.6 296.4 699.2 299.4 V307.2 M699.2 302 Q699.6 295 703.6 292.6 Q705 291.8 705 293.6 V307.2 M700.6 300.6 V306.2 Q701.6 307.4 702.6 306.2 V300.6 M705 307.2 H707.4 V299 Q709.6 296.8 711.8 299 V307.2 M709.6 298 V307.2 M711.8 307.2 V304.4 L713.4 305 Q714.4 306.8 716.2 307.2 H720" fill="none" stroke="url(#sgG)" stroke-width="0.75" stroke-linejoin="round" stroke-linecap="round"/>
  <rect x="700.6" y="300.6" width="2" height="6" rx="0.9" fill="#d63a66" opacity="0.85"/>
  <text x="668.4" y="315.7" font-family="Liberation Sans, sans-serif" font-weight="bold" font-size="7.3" textLength="59.6" lengthAdjust="spacingAndGlyphs" fill="#2a3a5e">SAINT-GOBAIN</text>
  <!-- Sika -->
  <polygon points="578.4,328.4 593.7,354.7 563.6,354.7" fill="#e0262a"/>
  <text transform="translate(567.8,352.2) scale(0.76,1.22)" font-family="Liberation Serif, serif" font-style="italic" font-weight="bold" font-size="14" fill="#f7cb5a">Sika</text>
  <circle cx="592.6" cy="345.6" r="0.9" fill="none" stroke="#e0232b" stroke-width="0.3"/>
  <!-- Dow -->
  <polygon points="628.3,342.1 659,331.2 689.4,342.1 659,352.9" fill="#d8202f"/>
  <text x="643.8" y="346.5" font-family="Liberation Sans, sans-serif" font-weight="bold" font-size="11.8" textLength="31.4" lengthAdjust="spacingAndGlyphs" fill="#fff">Dow</text>
  <circle cx="674.6" cy="349.6" r="0.8" fill="none" stroke="#d8202f" stroke-width="0.3"/>
</svg>

<!-- contact bar -->
<svg class="abs" style="left:0;top:0" width="200" height="400" viewBox="0 0 200 400"><path d="M0 337.3 H114 Q124.5 337.6 130.2 344.6" fill="none" stroke="#fff" stroke-opacity="0.85" stroke-width="1.2"/></svg>
<div class="abs" style="left:-30px;top:343.9px;width:202.1px;height:48.3px;border-radius:24.15px;background:#fff;box-shadow:0 -3px 4px rgba(255,255,255,0.35);"></div>
<svg class="abs" style="left:0;top:0" width="200" height="400" viewBox="0 0 200 400" fill="none" stroke="#444" stroke-width="0.9" stroke-linecap="round" stroke-linejoin="round">
  <circle cx="19.9" cy="356.2" r="8"/>
  <rect x="14.8" y="352.6" width="10.4" height="7.2" rx="0.8" fill="#444"/>
  <path d="M14.8 352.9 L20 357.2 L25.2 352.9" stroke="#fff" stroke-width="1"/>
  <path d="M14.8 359.6 L18.4 356.4 M25.2 359.6 L21.6 356.4" stroke="#fff" stroke-width="0.8"/>
  <circle cx="19.9" cy="376.7" r="8"/>
  <circle cx="19.9" cy="376.7" r="5.5" fill="#555" stroke="#444"/>
  <ellipse cx="19.9" cy="376.7" rx="2.5" ry="5.5" stroke="#eee" stroke-width="0.7"/>
  <path d="M14.4 376.7 H25.4 M19.9 371.2 V382.2 M15.4 373.9 H24.4 M15.4 379.5 H24.4" stroke="#eee" stroke-width="0.7"/>
</svg>

<div class="t" style="left:194.00px;top:10px;height:28px;line-height:28px;font-size:21.3px;color:#595959;letter-spacing:-0.071px;font-weight:bold;-webkit-text-stroke:0.3px #595959;">Exterior</div>
<div class="t" style="left:284.00px;top:10px;height:28px;line-height:28px;font-size:21.3px;color:#595959;letter-spacing:-0.932px;font-weight:bold;-webkit-text-stroke:0.3px #595959;">Wall</div>
<div class="t" style="left:333.80px;top:10px;height:28px;line-height:28px;font-size:21.3px;color:#595959;letter-spacing:0.844px;font-weight:bold;-webkit-text-stroke:0.3px #595959;">System</div>
<div class="t" style="left:424.30px;top:10px;height:28px;line-height:28px;font-size:21.3px;color:#595959;letter-spacing:0.687px;font-weight:bold;-webkit-text-stroke:0.3px #595959;">Market</div>
<div class="t" style="left:193.60px;top:35px;height:18px;line-height:18px;font-size:14.2px;color:#505050;letter-spacing:0.471px;">Global</div>
<div class="t" style="left:243.00px;top:35px;height:18px;line-height:18px;font-size:14.2px;color:#505050;letter-spacing:0.251px;">Forecast</div>
<div class="t" style="left:304.50px;top:35px;height:18px;line-height:18px;font-size:14.2px;color:#505050;letter-spacing:-0.705px;">(2025</div>
<div class="t" style="left:343.00px;top:35px;height:18px;line-height:18px;font-size:14.2px;color:#505050;letter-spacing:0.303px;">–</div>
<div class="t" style="left:358.00px;top:35px;height:18px;line-height:18px;font-size:14.2px;color:#505050;letter-spacing:0.820px;">2034)</div>
<div class="t" style="left:264.90px;top:75px;height:15px;line-height:15px;font-size:11.7px;color:#fff;letter-spacing:-0.160px;-webkit-text-stroke:0.3px #fff;">MARKET STATISTICS</div>
<div class="t" style="left:264.60px;top:196px;height:15px;line-height:15px;font-size:11.7px;color:#fff;letter-spacing:-0.186px;-webkit-text-stroke:0.3px #fff;">SEGMENT STATISTICS</div>
<div class="t" style="left:519.60px;top:76px;height:15px;line-height:15px;font-size:11.4px;color:#fff;letter-spacing:-0.156px;-webkit-text-stroke:0.3px #fff;">REGIONAL INSIGHTS</div>
<div class="t" style="left:518.90px;top:197px;height:14px;line-height:14px;font-size:11.1px;color:#fff;letter-spacing:-0.197px;-webkit-text-stroke:0.3px #fff;">MARKET LEADERS</div>
<div class="t" style="left:261.20px;top:107px;height:13px;line-height:13px;font-size:10.3px;color:#6c6c6c;letter-spacing:0.137px;">2024 Market Size:</div>
<div class="t" style="left:350.60px;top:105px;height:15px;line-height:15px;font-size:11.6px;color:#111;letter-spacing:-0.457px;font-weight:bold;-webkit-text-stroke:0.3px #111;">$161.9 BN</div>
<div class="t" style="left:261.20px;top:128px;height:13px;line-height:13px;font-size:10.3px;color:#6c6c6c;letter-spacing:0.137px;">2025 Market Size:</div>
<div class="t" style="left:350.60px;top:126px;height:15px;line-height:15px;font-size:11.6px;color:#111;letter-spacing:-0.547px;font-weight:bold;-webkit-text-stroke:0.3px #111;">$173 BN</div>
<div class="t" style="left:261.20px;top:148px;height:13px;line-height:13px;font-size:10.3px;color:#6c6c6c;letter-spacing:0.246px;">2034 Forecast Market Size:</div>
<div class="t" style="left:397.10px;top:146px;height:15px;line-height:15px;font-size:11.6px;color:#111;letter-spacing:0.318px;font-weight:bold;-webkit-text-stroke:0.3px #111;">$350.4 BN</div>
<div class="t" style="left:261.20px;top:166px;height:13px;line-height:13px;font-size:10.3px;color:#6c6c6c;letter-spacing:0.413px;">CAGR (2025-2034):</div>
<div class="t" style="left:363.00px;top:164px;height:15px;line-height:15px;font-size:11.6px;color:#111;letter-spacing:-0.080px;font-weight:bold;-webkit-text-stroke:0.3px #111;">8.2%</div>
<div class="t" style="left:261.10px;top:225px;height:15px;line-height:15px;font-size:11.6px;color:#111;letter-spacing:-0.270px;font-weight:bold;-webkit-text-stroke:0.3px #111;">Non-ventilated Segment</div>
<div class="t" style="left:261.20px;top:243px;height:13px;line-height:13px;font-size:10.3px;color:#6c6c6c;letter-spacing:0.196px;">Market Size (2024):</div>
<div class="t" style="left:360.80px;top:241px;height:15px;line-height:15px;font-size:11.6px;color:#111;letter-spacing:-0.187px;font-weight:bold;-webkit-text-stroke:0.3px #111;">$97.3 BN</div>
<div class="t" style="left:261.10px;top:267px;height:15px;line-height:15px;font-size:11.6px;color:#111;letter-spacing:-0.591px;font-weight:bold;-webkit-text-stroke:0.3px #111;">Stucco Segment</div>
<div class="t" style="left:261.20px;top:286px;height:13px;line-height:13px;font-size:10.3px;color:#6c6c6c;letter-spacing:0.320px;">Market Share (2024):</div>
<div class="t" style="left:370.00px;top:284px;height:15px;line-height:15px;font-size:11.6px;color:#111;letter-spacing:-0.109px;font-weight:bold;-webkit-text-stroke:0.3px #111;">26%</div>
<div class="t" style="left:516.60px;top:107px;height:13px;line-height:13px;font-size:10.3px;color:#6c6c6c;letter-spacing:0.360px;">Largest Market:</div>
<div class="t" style="left:597.00px;top:105px;height:15px;line-height:15px;font-size:11.6px;color:#111;letter-spacing:0.134px;font-weight:bold;-webkit-text-stroke:0.3px #111;">Asia Pacific</div>
<div class="t" style="left:516.60px;top:128px;height:13px;line-height:13px;font-size:10.3px;color:#6c6c6c;letter-spacing:0.355px;">Fastest Growing Market:</div>
<div class="t" style="left:640.50px;top:126px;height:15px;line-height:15px;font-size:11.6px;color:#111;letter-spacing:0.351px;font-weight:bold;-webkit-text-stroke:0.3px #111;">Latin America</div>
<div class="t" style="left:516.60px;top:148px;height:13px;line-height:13px;font-size:10.3px;color:#6c6c6c;letter-spacing:0.384px;">Emerging Countries:</div>
<div class="t" style="left:622.00px;top:146px;height:15px;line-height:15px;font-size:11.6px;color:#111;letter-spacing:0.395px;font-weight:bold;-webkit-text-stroke:0.3px #111;">India, Indonesia,</div>
<div class="t" style="left:516.60px;top:162px;height:15px;line-height:15px;font-size:11.6px;color:#111;letter-spacing:0.340px;font-weight:bold;-webkit-text-stroke:0.3px #111;">Vietnam, Brazil, Saudi Arabia</div>
<div class="t" style="left:516.40px;top:227px;height:13px;line-height:13px;font-size:10.3px;color:#6c6c6c;letter-spacing:0.416px;">Market Leader</div>
<div class="t" style="left:516.40px;top:238px;height:15px;line-height:15px;font-size:11.6px;color:#111;letter-spacing:0.315px;font-weight:bold;-webkit-text-stroke:0.3px #111;">Saint Gobain</div>
<div class="t" style="left:629.50px;top:227px;height:13px;line-height:13px;font-size:10.3px;color:#6c6c6c;letter-spacing:0.458px;">Market Share (2024)</div>
<div class="t" style="left:629.50px;top:238px;height:15px;line-height:15px;font-size:11.6px;color:#111;letter-spacing:0.053px;font-weight:bold;-webkit-text-stroke:0.3px #111;">2.8%</div>
<div class="t" style="left:581.50px;top:269px;height:14px;line-height:14px;font-size:10.8px;color:#111;letter-spacing:-0.373px;font-weight:bold;-webkit-text-stroke:0.3px #111;">TOP PLAYERS</div>
<div class="t" style="left:498.00px;top:368px;height:14px;line-height:14px;font-size:10.4px;color:#646464;letter-spacing:-0.059px;">Top Players Collective Market Share in 2024:</div>
<div class="t" style="left:707.20px;top:365px;height:17px;line-height:17px;font-size:13.0px;color:#111;letter-spacing:-0.410px;font-weight:bold;-webkit-text-stroke:0.3px #111;">8.5%</div>
<div class="t" style="left:10.50px;top:48px;height:14px;line-height:14px;font-size:10.4px;color:#3e8b93;letter-spacing:-0.811px;font-weight:bold;">Global Market Insights</div>
<div class="t" style="left:28.00px;top:64px;height:8px;line-height:8px;font-size:6.4px;color:#2f5f70;letter-spacing:-0.356px;font-weight:bold;font-style:italic;">Insights to Innovation</div>
<div class="t" style="left:38.20px;top:349px;height:14px;line-height:14px;font-size:10.8px;color:#222;letter-spacing:-0.490px;-webkit-text-stroke:0.15px #222;">sales@gminsights.com</div>
<div class="t" style="left:38.20px;top:368px;height:14px;line-height:14px;font-size:10.8px;color:#222;letter-spacing:-0.425px;-webkit-text-stroke:0.15px #222;">www.gminsights.com</div>

<!-- frame border -->
<div class="abs" style="left:0;top:0;width:800px;height:400px;box-sizing:border-box;border-style:solid;border-color:#505354;border-width:1.5px 2px 1.2px 1.5px;pointer-events:none;"></div>
</div>
</body>
</html>
